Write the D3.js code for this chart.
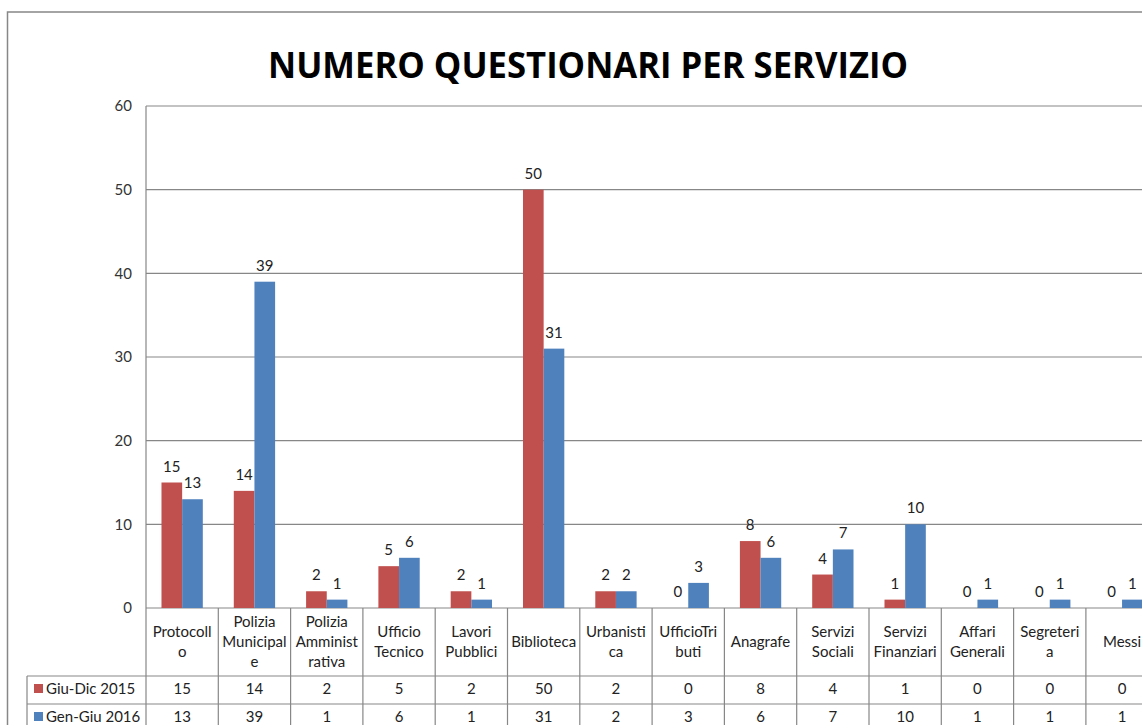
<!DOCTYPE html>
<html>
<head>
<meta charset="utf-8">
<script src="https://cdn.jsdelivr.net/npm/d3@7"></script>
<style>
  body { margin: 0; background: #fff; }
  svg { display: block; font-family: Lato, "Open Sans", sans-serif; }
</style>
</head>
<body>
<div id="chart"></div>
<script>
const width = 1142;
const height = 725;

const categories = ["Protocollo", "Polizia Municipale", "Polizia Amministrativa", "Ufficio Tecnico",
    "Lavori Pubblici", "Biblioteca", "Urbanistica", "UfficioTributi", "Anagrafe", "Servizi Sociali",
    "Servizi Finanziari", "Affari Generali", "Segreteria", "Messi"];
// wrapped the way the original chart breaks them
const categoryLines = [["Protocoll", "o"], ["Polizia", "Municipal", "e"], ["Polizia", "Amminist", "rativa"],
    ["Ufficio", "Tecnico"], ["Lavori", "Pubblici"], ["Biblioteca"], ["Urbanisti", "ca"], ["UfficioTri", "buti"],
    ["Anagrafe"], ["Servizi", "Sociali"], ["Servizi", "Finanziari"], ["Affari", "Generali"], ["Segreteri", "a"], ["Messi"]];
const seriesNames = ["Giu-Dic 2015", "Gen-Giu 2016"];
const giuDic2015 = [15, 14, 2, 5, 2, 50, 2, 0, 8, 4, 1, 0, 0, 0];
const genGiu2016 = [13, 39, 1, 6, 1, 31, 2, 3, 6, 7, 10, 1, 1, 1];
const yTicks = [0, 10, 20, 30, 40, 50, 60];
const title = "NUMERO QUESTIONARI PER SERVIZIO";

const seriesValues = [giuDic2015, genGiu2016];
const colors = ["#C0504D", "#4F81BD"];

const plotLeft = 146, plotTop = 106, plotBottom = 608, band = 72.3;
const rowTop = 676, rowH = 28, legendLeft = 27;
const gridColor = "#878787";

const svg = d3.select("#chart").append("svg")
    .attr("width", width)
    .attr("height", height);

// chart frame (runs off the right and bottom edge)
svg.append("rect")
    .attr("x", 7.5).attr("y", 12)
    .attr("width", 1200).attr("height", 800)
    .attr("fill", "none").attr("stroke", gridColor).attr("stroke-width", 1.5);

svg.append("text")
    .attr("x", 588).attr("y", 78)
    .attr("text-anchor", "middle")
    .attr("font-family", "'Open Sans', sans-serif")
    .attr("font-weight", 700)
    .attr("font-size", 36)
    .attr("textLength", 640)
    .attr("lengthAdjust", "spacingAndGlyphs")
    .attr("fill", "#000")
    .text(title);

const x = d3.scaleBand()
    .domain(categories)
    .range([plotLeft, plotLeft + band * categories.length]);

const xs = d3.scaleBand()
    .domain(seriesNames)
    .range([0, x.bandwidth()])
    .paddingOuter(0.75);

const y = d3.scaleLinear()
    .domain([0, 60])
    .range([plotBottom, plotTop]);

const plotRight = plotLeft + band * categories.length;

// gridlines
svg.append("g")
    .selectAll("line")
    .data(yTicks)
    .join("line")
    .attr("x1", plotLeft).attr("x2", plotRight)
    .attr("y1", d => y(d)).attr("y2", d => y(d))
    .attr("stroke", gridColor).attr("stroke-width", 1.2);

// y axis labels
svg.append("g")
    .attr("font-size", 15)
    .attr("fill", "#333")
    .selectAll("text")
    .data(yTicks)
    .join("text")
    .attr("x", 132)
    .attr("y", d => y(d))
    .attr("dy", "0.35em")
    .attr("text-anchor", "end")
    .text(d => d);

// bars
const groups = svg.append("g")
    .selectAll("g")
    .data(seriesNames)
    .join("g")
    .attr("fill", (d, i) => colors[i]);

groups.selectAll("rect")
    .data((s, si) => seriesValues[si].map((v, ci) => ({ s, v, c: categories[ci] })))
    .join("rect")
    .attr("x", d => x(d.c) + xs(d.s))
    .attr("width", xs.bandwidth())
    .attr("y", d => y(d.v))
    .attr("height", d => y(0) - y(d.v));

// value labels
groups.selectAll("text")
    .data((s, si) => seriesValues[si].map((v, ci) => ({ s, v, c: categories[ci] })))
    .join("text")
    .attr("x", d => x(d.c) + xs(d.s) + xs.bandwidth() / 2)
    .attr("y", d => y(d.v) - 11)
    .attr("text-anchor", "middle")
    .attr("font-size", 15)
    .attr("fill", "#222")
    .text(d => d.v);

// y axis line, continues down as the table's left border
svg.append("line")
    .attr("x1", plotLeft).attr("x2", plotLeft)
    .attr("y1", plotTop).attr("y2", height)
    .attr("stroke", gridColor).attr("stroke-width", 1.2);

// data table: vertical separators
svg.append("g")
    .selectAll("line")
    .data(categories)
    .join("line")
    .attr("x1", d => x(d) + band).attr("x2", d => x(d) + band)
    .attr("y1", plotBottom).attr("y2", height)
    .attr("stroke", gridColor).attr("stroke-width", 1.2);

// data table: horizontal rows
svg.append("g")
    .selectAll("line")
    .data([rowTop, rowTop + rowH])
    .join("line")
    .attr("x1", legendLeft).attr("x2", plotRight)
    .attr("y1", d => d).attr("y2", d => d)
    .attr("stroke", gridColor).attr("stroke-width", 1.2);

svg.append("line")
    .attr("x1", legendLeft).attr("x2", legendLeft)
    .attr("y1", rowTop).attr("y2", height)
    .attr("stroke", gridColor).attr("stroke-width", 1.2);

// category labels
const catLabels = svg.append("g")
    .attr("font-size", 15)
    .attr("fill", "#222")
    .attr("text-anchor", "middle")
    .selectAll("text")
    .data(categories)
    .join("text")
    .attr("x", d => x(d) + band / 2)
    .attr("y", (d, i) => (plotBottom + rowTop) / 2 - (categoryLines[i].length - 1) * 10);

catLabels.selectAll("tspan")
    .data((d, i) => categoryLines[i])
    .join("tspan")
    .attr("x", function () { return this.parentNode.getAttribute("x"); })
    .attr("dy", (d, i) => i === 0 ? "0.35em" : 20)
    .text(d => d);

// table rows: legend key + values (second row sits at the page edge)
seriesNames.forEach((name, si) => {
    const cy = rowTop + rowH * si + 12.5;
    svg.append("rect")
        .attr("x", 34).attr("y", cy - 4.5)
        .attr("width", 9).attr("height", 9)
        .attr("fill", colors[si]);
    svg.append("text")
        .attr("x", 46).attr("y", cy)
        .attr("dy", "0.35em")
        .attr("font-size", 15)
        .attr("fill", "#222")
        .text(name);
    svg.append("g")
        .attr("font-size", 15)
        .attr("fill", "#222")
        .attr("text-anchor", "middle")
        .selectAll("text")
        .data(seriesValues[si])
        .join("text")
        .attr("x", (d, i) => x(categories[i]) + band / 2)
        .attr("y", cy)
        .attr("dy", "0.35em")
        .text(d => d);
});
</script>
</body>
</html>
